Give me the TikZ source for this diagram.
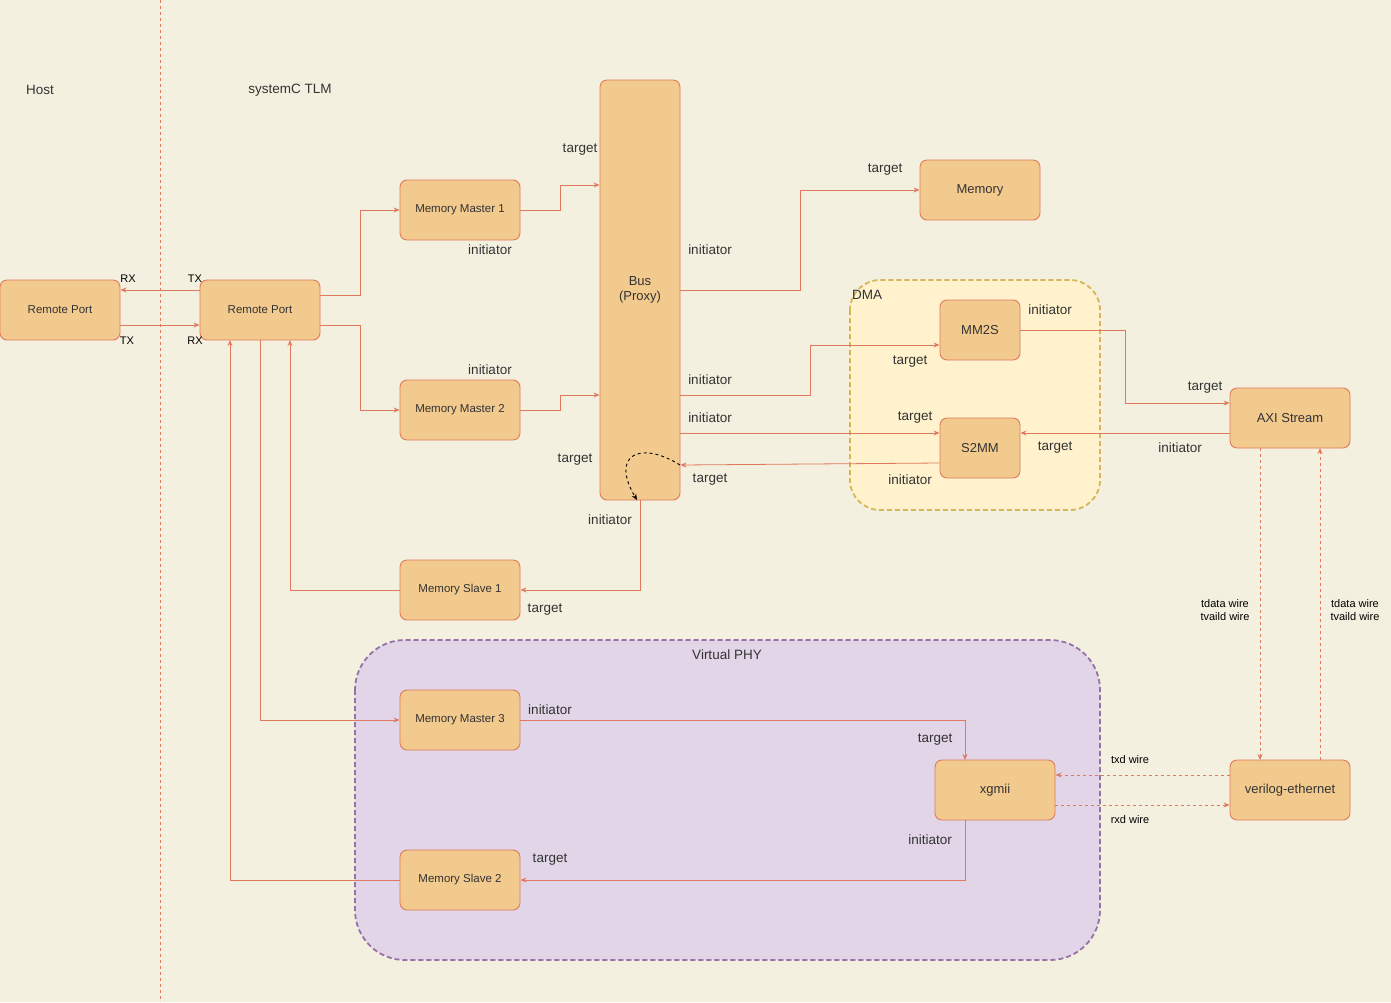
\documentclass[tikz,border=0pt]{standalone}
\usepackage{fontspec}
\setmainfont{Liberation Sans}
\usetikzlibrary{arrows.meta}
\definecolor{bg}{HTML}{F4F0DF}
\definecolor{nf}{HTML}{F2CA8E}
\definecolor{ln}{HTML}{E07A5F}
\definecolor{tx}{HTML}{333333}
\begin{document}
\begin{tikzpicture}[x=1pt,y=-1pt,
 box/.style={draw=ln,line width=0.9pt,fill=nf,rounded corners=7pt,text=tx,font=\fontsize{13}{15}\selectfont,align=center,inner sep=0pt},
 sbox/.style={box,font=\fontsize{11.5}{13}\selectfont},
 e/.style={draw=ln,line width=0.8pt,-{Stealth[length=6pt,width=5pt]}},
 de/.style={e,dashed},
 lb/.style={text=tx,font=\fontsize{13.5}{15}\selectfont,inner sep=0pt},
 sl/.style={text=black,font=\fontsize{11}{13}\selectfont,inner sep=0pt,align=center}]
\fill[bg] (0,0) rectangle (1391,1002);
\useasboundingbox (0,0) rectangle (1391,1002);
\draw[ln,dashed] (160,0) -- (160,1002);
\draw[draw={rgb,255:red,214;green,182;blue,86},fill={rgb,255:red,255;green,242;blue,204},dash pattern=on 5pt off 3pt,line width=1.8pt,rounded corners=30pt] (850,280) rectangle (1100,510);
\draw[draw={rgb,255:red,150;green,115;blue,166},fill={rgb,255:red,225;green,213;blue,231},dash pattern=on 5pt off 3pt,line width=1.8pt,rounded corners=50pt] (355,640) rectangle (1100,960);
\node[sbox,minimum width=120pt,minimum height=60pt] (rp1) at (60,310) {Remote Port};
\node[sbox,minimum width=120pt,minimum height=60pt] (rp2) at (260,310) {Remote Port};
\node[sbox,minimum width=120pt,minimum height=60pt] (mm1) at (460,210) {Memory Master 1};
\node[sbox,minimum width=120pt,minimum height=60pt] (mm2) at (460,410) {Memory Master 2};
\node[box,minimum width=80pt,minimum height=420pt] (bus) at (640,290) {Bus\\(Proxy)};
\node[box,minimum width=120pt,minimum height=60pt] (mem) at (980,190) {Memory};
\node[box,minimum width=80pt,minimum height=60pt] (mm2s) at (980,330) {MM2S};
\node[box,minimum width=80pt,minimum height=60pt] (s2mm) at (980,448) {S2MM};
\node[box,minimum width=120pt,minimum height=60pt] (axi) at (1290,418) {AXI Stream};
\node[sbox,minimum width=120pt,minimum height=60pt] (ms1) at (460,590) {Memory Slave 1};
\node[sbox,minimum width=120pt,minimum height=60pt] (mm3) at (460,720) {Memory Master 3};
\node[box,minimum width=120pt,minimum height=60pt] (xg) at (995,790) {xgmii};
\node[sbox,minimum width=120pt,minimum height=60pt] (ms2) at (460,880) {Memory Slave 2};
\node[box,minimum width=120pt,minimum height=60pt] (ve) at (1290,790) {verilog-ethernet};
% edges
\draw[e] (rp2.west|-0,290) -- (rp1.east|-0,290);
\draw[e] (rp1.east|-0,325) -- (rp2.west|-0,325);
\draw[e] (rp2.east|-0,295) -- (360,295) -- (360,210) -- (mm1.west);
\draw[e] (rp2.east|-0,325) -- (360,325) -- (360,410) -- (mm2.west);
\draw[e] (mm1.east) -- (560,210) -- (560,185) -- (bus.west|-0,185);
\draw[e] (mm2.east) -- (560,410) -- (560,395) -- (bus.west|-0,395);
\draw[e] (bus.east|-0,290) -- (800,290) -- (800,190) -- (mem.west);
\draw[e] (bus.east|-0,395) -- (810,395) -- (810,345) -- (mm2s.west|-0,345);
\draw[e] (bus.east|-0,433) -- (s2mm.west|-0,433);
\draw[e] (s2mm.west|-0,463) -- (bus.east|-0,465);
\draw[e] (mm2s.east) -- (1125,330) -- (1125,403) -- (axi.west|-0,403);
\draw[e] (axi.west|-0,433) -- (s2mm.east|-0,433);
\draw[de] (1260,448) -- (1260,760);
\draw[de] (1320,760) -- (1320,448);
\draw[de] (ve.west|-0,775) -- (xg.east|-0,775);
\draw[de] (xg.east|-0,805) -- (ve.west|-0,805);
\draw[e] (bus.south) -- (640,590) -- (ms1.east);
\draw[e] (ms1.west) -- (290,590) -- (290,340);
\draw[e] (260,340) -- (260,720) -- (mm3.west);
\draw[e] (mm3.east) -- (965,720) -- (965,760);
\draw[e] (965,820) -- (965,880) -- (ms2.east);
\draw[e] (ms2.west) -- (230,880) -- (230,340);
\draw[dashed,line width=0.9pt,-{Stealth[length=6pt,width=5pt]},black] (680,465) .. controls (640,440) and (610,455) .. (637,500);
% labels
\node[lb] at (40,90) {Host};
\node[lb] at (290,90) {systemC TLM};
\node[sl] at (128,279) {RX};
\node[sl] at (195,279) {TX};
\node[sl] at (127,341) {TX};
\node[sl] at (195,341) {RX};
\node[lb] at (580,150) {target};
\node[lb] at (490,250) {initiator};
\node[lb] at (490,370) {initiator};
\node[lb] at (885,170) {target};
\node[lb] at (710,250) {initiator};
\node[lb] at (867,295) {DMA};
\node[lb] at (1050,310) {initiator};
\node[lb] at (910,362) {target};
\node[lb] at (710,380) {initiator};
\node[lb] at (1205,388) {target};
\node[lb] at (710,418) {initiator};
\node[lb] at (915,418) {target};
\node[lb] at (1055,448) {target};
\node[lb] at (1180,448) {initiator};
\node[lb] at (575,460) {target};
\node[lb] at (710,480) {target};
\node[lb] at (910,480) {initiator};
\node[lb] at (610,520) {initiator};
\node[lb] at (545,610) {target};
\node[sl] at (1225,610) {tdata wire\\tvaild wire};
\node[sl] at (1355,610) {tdata wire\\tvaild wire};
\node[lb] at (727,655) {Virtual PHY};
\node[lb] at (550,710) {initiator};
\node[lb] at (935,740) {target};
\node[sl] at (1130,760) {txd wire};
\node[sl] at (1130,820) {rxd wire};
\node[lb] at (930,840) {initiator};
\node[lb] at (550,860) {target};
\end{tikzpicture}
\end{document}
